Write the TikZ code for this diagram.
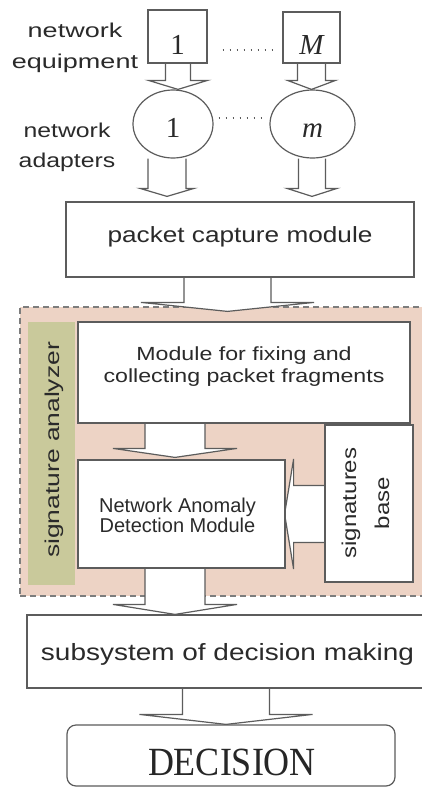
\documentclass[tikz,border=0pt]{standalone}
\usepackage{fontspec}
\setmainfont{Liberation Sans}
\newfontfamily\seriffont{Liberation Serif}
\usetikzlibrary{calc,shapes.geometric}
\pgfdeclarelayer{back}
\pgfdeclarelayer{mid}
\pgfsetlayers{back,mid,main}
\definecolor{linec}{HTML}{5C5C5C}
\definecolor{txt}{HTML}{2A2A2A}
\definecolor{pinkfill}{HTML}{EDD3C5}
\definecolor{olivefill}{HTML}{C9C99B}
\newcommand\sx[2]{\scalebox{#1}[1]{#2}}
\newcommand\twolines[2]{\begin{tabular}[t]{@{}c@{}}#1\\#2\end{tabular}}
% down block arrow: #1 start point (y used), #2 tip, #3 shaft half width, #4 head half width, #5 head height
\newcommand\blkdown[5]{\draw[blk] let \p1=#1, \p2=#2 in
  (\x2-#3pt,\y1) -- (\x2-#3pt,\y2+#5pt) -- (\x2-#4pt,\y2+#5pt) -- (\p2) --
  (\x2+#4pt,\y2+#5pt) -- (\x2+#3pt,\y2+#5pt) -- (\x2+#3pt,\y1);}
% left block arrow: #1 start point (x used), #2 tip, #3 shaft half height, #4 head half height, #5 head length
\newcommand\blkleft[5]{\draw[blk] let \p1=#1, \p2=#2 in
  (\x1,\y2+#3pt) -- (\x2+#5pt,\y2+#3pt) -- (\x2+#5pt,\y2+#4pt) -- (\p2) --
  (\x2+#5pt,\y2-#4pt) -- (\x2+#5pt,\y2-#3pt) -- (\x1,\y2-#3pt);}
\begin{document}
\begin{tikzpicture}[x=1pt,y=-1pt,
  box/.style={draw=linec, line width=1.2pt, fill=white, inner sep=0pt},
  blk/.style={draw=linec, line width=1.2pt, fill=white, line join=miter},
  lbl/.style={text=txt, inner sep=0pt, anchor=base},
  dots/.style={draw=linec, line width=1.8pt, dash pattern=on 1.8pt off 5.2pt}]
\useasboundingbox (0,0) rectangle (422,787);

% region of the signature analyzer
\begin{pgfonlayer}{back}
\fill[white] (0,0) rectangle (422,787);
\node[fill=pinkfill, draw=linec!80, line width=1.5pt, dash pattern=on 6pt off 4pt,
      minimum width=420, minimum height=289, inner sep=0pt] (region) at (230,451.5) {};
\node[fill=olivefill, minimum width=47, minimum height=263, inner sep=0pt] (bar) at (51.5,453.5) {};
\end{pgfonlayer}

% boxes
\node[box, minimum width=59, minimum height=53] (b1) at (177.5,36.5) {};
\node[box, minimum width=57, minimum height=51] (bM) at (311.5,37.5) {};
\node[box, ellipse, minimum width=80, minimum height=68] (e1) at (173,124) {};
\node[box, ellipse, minimum width=85, minimum height=68] (em) at (312.5,124) {};
\node[box, minimum width=348, minimum height=75] (pcm) at (240,239.5) {};
\node[box, minimum width=332, minimum height=101] (mod) at (244,372.5) {};
\node[box, minimum width=207, minimum height=108] (nad) at (181.5,514) {};
\node[box, minimum width=88, minimum height=157] (sig) at (369,503.5) {};
\node[box, minimum width=413, minimum height=73] (sub) at (233.5,651.5) {};
\node[box, rounded corners=9pt, minimum width=328, minimum height=61] (dec) at (231,755.5) {};

% block arrows (under the boxes, over the region)
\begin{pgfonlayer}{mid}
\blkdown{(b1.south)}{($(e1.north)+(5,0)$)}{12.5}{29.5}{9}
\blkdown{(bM.south)}{($(em.north)+(-1,0)$)}{14}{24}{9}
\blkdown{(e1.south)}{($(pcm.north)+(-73,-5)$)}{19}{27}{8}
\blkdown{(em.south)}{($(pcm.north)+(72,-5)$)}{13.5}{25}{8}
\blkdown{(pcm.south)}{($(mod.north)+(-16.5,-10)$)}{43.5}{86.5}{9}
\blkdown{(mod.south)}{($(nad.north)+(-6.5,-2)$)}{30}{62}{9}
\blkdown{(nad.south)}{($(sub.north)+(-58.5,0)$)}{30}{62}{10}
\blkdown{(sub.south)}{($(dec.north)+(-5,0)$)}{43.5}{86.5}{10}
\blkleft{(sig.west)}{($(nad.east)+(-1,0)$)}{28.5}{55}{9}
\end{pgfonlayer}

% dotted lines
\draw[dots] ($(b1.east)+(15,13.5)$) -- ($(bM.west)+(-5,12.5)$);
\draw[dots] ($(e1.east)+(5,-6)$) -- ($(em.west)+(-5,-6)$);

% texts
\node[lbl, font=\fontsize{20}{31}\selectfont] (tneq) at (75,37) {\sx{1.35}{\twolines{network}{equipment}}};
\node[lbl, font=\fontsize{20}{30}\selectfont] (tnad) at (67,137) {\sx{1.24}{\twolines{network}{adapters}}};
\node[lbl, font=\seriffont\fontsize{29}{29}\selectfont] (t1) at (177.5,54) {1};
\node[lbl, font=\seriffont\itshape\fontsize{29}{29}\selectfont] (tM) at (311.5,54) {M};
\node[lbl, font=\seriffont\fontsize{29}{29}\selectfont] (te1) at (173,137) {1};
\node[lbl, font=\seriffont\itshape\fontsize{29}{29}\selectfont] (tem) at (312.5,137) {m};
\node[lbl, font=\fontsize{22}{26}\selectfont] (tpcm) at (240,242) {\sx{1.19}{packet capture module}};
\node[lbl, font=\fontsize{19}{22}\selectfont] (tmod) at (244,360) {\sx{1.22}{\twolines{Module for fixing and}{collecting packet fragments}}};
\node[lbl, font=\fontsize{20}{20}\selectfont] (tnadm) at (177.5,512) {\twolines{Network Anomaly}{Detection Module}};
\node[lbl, font=\fontsize{23.5}{28}\selectfont] (tsub) at (227.5,660) {\sx{1.19}{subsystem of decision making}};
\node[lbl, font=\seriffont\fontsize{40}{40}\selectfont, text=black!85] (tdec) at (232,775) {\sx{0.9}{DECISION}};
\node[lbl, rotate=90, font=\fontsize{20}{24}\selectfont] (tsa) at (59,450) {\sx{1.32}{signature analyzer}};
\node[lbl, rotate=90, font=\fontsize{20}{33}\selectfont] (tsb) at (356,503) {\sx{1.2}{\twolines{signatures}{base}}};
\end{tikzpicture}
\end{document}
